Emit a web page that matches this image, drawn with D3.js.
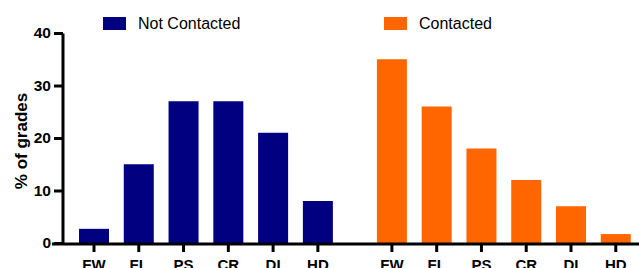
<!DOCTYPE html>
<html lang="en">
<head>
<meta charset="utf-8">
<title>grades chart</title>
<script src="https://d3js.org/d3.v7.min.js"></script>
<style>
  body { margin: 0; background: #fff; }
  text { font-family: "Liberation Sans", Arial, sans-serif; }
</style>
</head>
<body>
<script>
// data
var grades = ["FW", "FL", "PS", "CR", "DI", "HD"];
var notContacted = [2.7, 15, 27, 27, 21, 8];
var contacted = [35, 26, 18, 12, 7, 1.7];
var groupNames = ["Not Contacted", "Contacted"];
var groupColors = ["#000080", "#ff6600"];
var yTicks = [0, 10, 20, 30, 40];

var svgWidth = 639, svgHeight = 268;
var svg = d3.select("body").append("svg")
    .attr("width", svgWidth)
    .attr("height", svgHeight);

// index positions: second group starts after a gap
var groupStart = [0, 6.62];
var xScale = d3.scaleLinear().domain([0, 1]).range([94, 139]);
var yScale = d3.scaleLinear().domain([0, 40]).range([243, 33]);
var barW = 30;

var rows = [];
[notContacted, contacted].forEach(function(vals, g) {
    vals.forEach(function(v, i) {
        rows.push({g: g, grade: grades[i], value: v, pos: groupStart[g] + i * 0.995});
    });
});

// bars
svg.selectAll(".bar")
    .data(rows)
    .enter().append("rect")
    .attr("class", "bar")
    .attr("x", function(d) { return xScale(d.pos) - barW / 2; })
    .attr("width", barW)
    .attr("y", function(d) { return yScale(d.value); })
    .attr("height", function(d) { return yScale(0) - yScale(d.value); })
    .style("fill", function(d) { return groupColors[d.g]; });

// y axis
var yAxis = d3.axisLeft(yScale).tickValues(yTicks).tickSize(9).tickPadding(3);
var yg = svg.append("g")
    .attr("transform", "translate(63,0)")
    .call(yAxis);
yg.select(".domain").attr("stroke-width", 3).attr("d", "M0,33.5V243");
yg.selectAll(".tick line").attr("stroke-width", 3);
yg.selectAll(".tick text").style("font-size", "15.5px").style("font-weight", "bold").attr("fill", "#000");

// x axis line
svg.append("line")
    .attr("x1", 52).attr("x2", svgWidth)
    .attr("y1", yScale(0) + 1).attr("y2", yScale(0) + 1)
    .attr("stroke", "#000").attr("stroke-width", 3);

// x ticks + labels (cut by the bottom edge, as in the original)
var xt = svg.selectAll(".xtick")
    .data(rows)
    .enter().append("g")
    .attr("class", "xtick")
    .attr("transform", function(d) { return "translate(" + xScale(d.pos) + "," + (yScale(0) + 1) + ")"; });
xt.append("line")
    .attr("y1", 0).attr("y2", 8)
    .attr("stroke", "#000").attr("stroke-width", 3);
xt.append("text")
    .attr("y", 26)
    .attr("text-anchor", "middle")
    .style("font-size", "15px")
    .style("font-weight", "bold")
    .text(function(d) { return d.grade; });

// y label
svg.append("text")
    .attr("transform", "translate(27,141) rotate(-90)")
    .attr("text-anchor", "middle")
    .style("font-size", "17px")
    .style("font-weight", "bold")
    .text("% of grades");

// legend
var legendX = [103, 384];
var lg = svg.selectAll(".legend")
    .data(groupNames)
    .enter().append("g")
    .attr("class", "legend")
    .attr("transform", function(d, i) { return "translate(" + legendX[i] + ",17)"; });
lg.append("rect")
    .attr("width", 23).attr("height", 13)
    .style("fill", function(d, i) { return groupColors[i]; });
lg.append("text")
    .attr("x", 35).attr("y", 12)
    .style("font-size", "16px")
    .text(function(d) { return d; });
</script>
</body>
</html>
